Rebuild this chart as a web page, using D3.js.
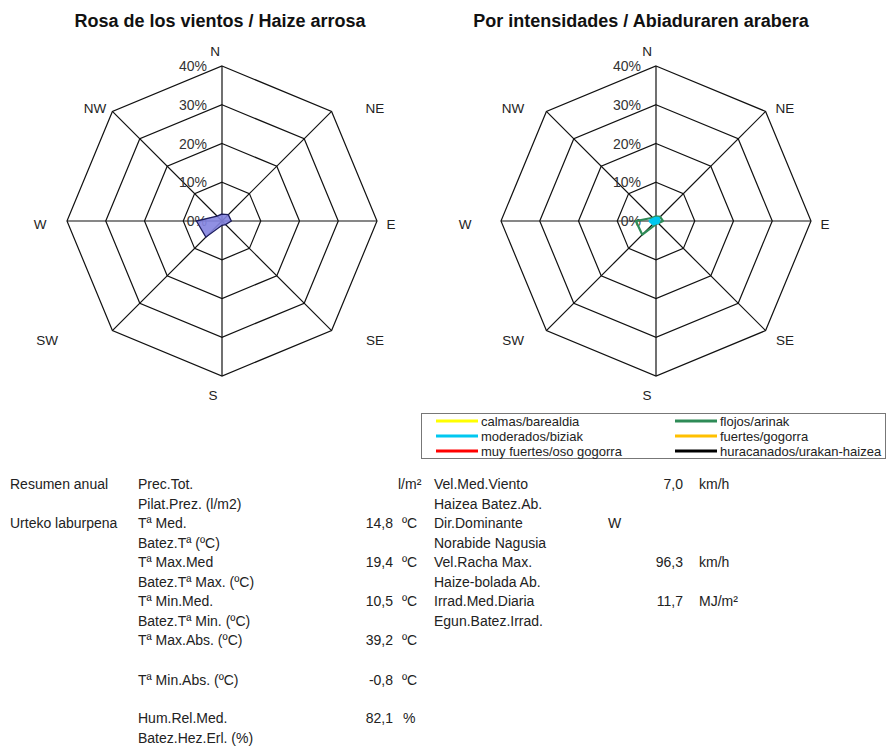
<!DOCTYPE html>
<html>
<head>
<meta charset="utf-8">
<script src="https://cdn.jsdelivr.net/npm/d3@7/dist/d3.min.js"></script>
<style>
  html, body { margin: 0; padding: 0; background: #fff; }
  svg text { font-family: "Liberation Sans", Arial, sans-serif; }
</style>
</head>
<body>
<svg id="chart" width="889" height="746"></svg>
<script>
// Compass directions and radial ticks
const directions = ["N", "NE", "E", "SE", "S", "SW", "W", "NW"];
const ringTicks = [10, 20, 30, 40];
const tickLabels = ["0%", "10%", "20%", "30%", "40%"];

// Overall frequency per direction (%)
const roseTotal = [1.8, 2.3, 2.4, 1.3, 1.1, 5.9, 6.6, 1.8];

// Frequency per direction split by wind intensity (%)
const intensityNames = ["calmas/barealdia", "flojos/arinak", "moderados/biziak", "fuertes/gogorra", "muy fuertes/oso gogorra", "huracanados/urakan-haizea"];
const intensityColors = ["#ffff00", "#2e8b57", "#00c8f0", "#ffc000", "#ff0000", "#000000"];
const calmas      = [0, 0, 0, 0, 0, 0, 0, 0];
const flojos      = [1.2, 1.5, 1.8, 0.8, 0.8, 5.0, 5.2, 1.2];
const moderados   = [0.6, 0.8, 0.6, 0.5, 0.3, 0.9, 1.4, 0.6];
const fuertes     = [0, 0, 0, 0, 0, 0, 0, 0];
const muyFuertes  = [0, 0, 0, 0, 0, 0, 0, 0];
const huracanados = [0, 0, 0, 0, 0, 0, 0, 0];
const intensitySeries = [calmas, flojos, moderados, fuertes, muyFuertes, huracanados];

// Annual summary table
const summaryLeftHeads = ["Resumen anual", "Urteko laburpena"];
const summaryLeftLabels = [
  ["Prec.Tot.", "Pilat.Prez. (l/m2)"],
  ["Tª Med.", "Batez.Tª (ºC)"],
  ["Tª Max.Med", "Batez.Tª Max. (ºC)"],
  ["Tª Min.Med.", "Batez.Tª Min. (ºC)"],
  ["Tª Max.Abs. (ºC)", ""],
  ["Tª Min.Abs. (ºC)", ""],
  ["Hum.Rel.Med.", "Batez.Hez.Erl. (%)"]
];
const summaryLeftValues = ["", "14,8", "19,4", "10,5", "39,2", "-0,8", "82,1"];
const summaryLeftUnits = ["l/m²", "ºC", "ºC", "ºC", "ºC", "ºC", "%"];
const summaryRightLabels = [
  ["Vel.Med.Viento", "Haizea Batez.Ab."],
  ["Dir.Dominante", "Norabide Nagusia"],
  ["Vel.Racha Max.", "Haize-bolada Ab."],
  ["Irrad.Med.Diaria", "Egun.Batez.Irrad."]
];
const summaryRightValues = ["7,0", "W", "96,3", "11,7"];
const summaryRightUnits = ["km/h", "", "km/h", "MJ/m²"];

const svg = d3.select("#chart");

const maxR = 155;
const r = d3.scaleLinear().domain([0, 40]).range([0, maxR]);
const angle = d3.scalePoint().domain(directions).range([0, 2 * Math.PI * 7 / 8]);

function polar(dir, v) {
  const a = angle(dir);
  return [r(v) * Math.sin(a), -r(v) * Math.cos(a)];
}

const lineClosed = d3.line().curve(d3.curveLinearClosed);

function drawGrid(g, labelOffsets) {
  ringTicks.forEach(t => {
    g.append("path")
      .attr("d", lineClosed(directions.map(d => polar(d, t))))
      .attr("fill", "none").attr("stroke", "#111").attr("stroke-width", 1.2);
  });
  directions.forEach(d => {
    const p = polar(d, 40);
    g.append("line").attr("x1", 0).attr("y1", 0).attr("x2", p[0]).attr("y2", p[1])
      .attr("stroke", "#111").attr("stroke-width", 1.2);
  });
  // direction names
  directions.forEach((d, i) => {
    g.append("text").attr("x", labelOffsets[i][0]).attr("y", labelOffsets[i][1] + 5)
      .attr("text-anchor", "middle").attr("font-size", 13.5).attr("fill", "#222").text(d);
  });
}

function drawTicks(g) {
  [0].concat(ringTicks).forEach((t, i) => {
    g.append("text").attr("x", -15).attr("y", -r(t) + 5)
      .attr("text-anchor", "end").attr("font-size", 14).attr("fill", "#333").text(tickLabels[i]);
  });
}

// ---- Left: overall wind rose
const leftC = [222, 221];
const leftLabels = [[-7, -170], [153, -113], [169, 3], [153, 119], [-9, 174], [-175, 119], [-182, 3], [-127, -113]];
svg.append("text").attr("x", 220).attr("y", 27).attr("text-anchor", "middle")
  .attr("font-size", 18).attr("font-weight", "bold").attr("fill", "#111")
  .text("Rosa de los vientos / Haize arrosa");
const gl = svg.append("g").attr("transform", `translate(${leftC[0]},${leftC[1]})`);
drawGrid(gl, leftLabels);
drawTicks(gl);
gl.append("path")
  .attr("d", lineClosed(directions.map((d, i) => polar(d, roseTotal[i]))))
  .attr("fill", "#8484e0").attr("fill-opacity", 0.9)
  .attr("stroke", "#1c1c5c").attr("stroke-width", 1.3);

// ---- Right: rose by intensity
const rightC = [656, 221];
const rightLabels = [[-9, -170], [129, -113], [169, 3], [129, 119], [-9, 174], [-143, 119], [-191, 3], [-143, -113]];
svg.append("text").attr("x", 641).attr("y", 27).attr("text-anchor", "middle")
  .attr("font-size", 18).attr("font-weight", "bold").attr("fill", "#111")
  .text("Por intensidades / Abiaduraren arabera");
const gr = svg.append("g").attr("transform", `translate(${rightC[0]},${rightC[1]})`);
drawGrid(gr, rightLabels);
drawTicks(gr);
intensitySeries.forEach((s, k) => {
  if (d3.max(s) === 0) return;
  gr.append("path")
    .attr("d", lineClosed(directions.map((d, i) => polar(d, s[i]))))
    .attr("fill", "none").attr("stroke", intensityColors[k])
    .attr("stroke-width", k === 2 ? 4 : 2.2).attr("stroke-linejoin", "round");
});

// ---- Legend
const lg = svg.append("g").attr("transform", "translate(421,413)");
lg.append("rect").attr("x", 0.5).attr("y", 0.5).attr("width", 464).attr("height", 45)
  .attr("fill", "#fff").attr("stroke", "#777").attr("stroke-width", 1);
// legend order: left column rows then right column rows
const legendOrder = [0, 2, 4, 1, 3, 5];
legendOrder.forEach((k, idx) => {
  const col = Math.floor(idx / 3), row = idx % 3;
  const x0 = col === 0 ? 15 : 254;
  const y0 = 8 + row * 15;
  lg.append("line").attr("x1", x0).attr("x2", x0 + 42).attr("y1", y0).attr("y2", y0)
    .attr("stroke", intensityColors[k]).attr("stroke-width", 3);
  lg.append("text").attr("x", x0 + 45).attr("y", y0 + 4.5).attr("font-size", 13).attr("fill", "#222")
    .text(intensityNames[k]);
});

// ---- Summary table
const tbl = svg.append("g").attr("font-size", 14).attr("fill", "#222");
const rowY = [484, 523, 562, 601, 640, 680, 718];
summaryLeftHeads.forEach((t, i) => {
  tbl.append("text").attr("x", 10).attr("y", rowY[i] + 5).text(t);
});
summaryLeftLabels.forEach((lab, i) => {
  tbl.append("text").attr("x", 138).attr("y", rowY[i] + 5).text(lab[0]);
  if (lab[1]) tbl.append("text").attr("x", 138).attr("y", rowY[i] + 24.5).text(lab[1]);
  tbl.append("text").attr("x", 393).attr("y", rowY[i] + 5).attr("text-anchor", "end").text(summaryLeftValues[i]);
  tbl.append("text").attr("x", i === 0 ? 398 : (i === 6 ? 403 : 402)).attr("y", rowY[i] + 5).text(summaryLeftUnits[i]);
});
summaryRightLabels.forEach((lab, i) => {
  tbl.append("text").attr("x", 434).attr("y", rowY[i] + 5).text(lab[0]);
  tbl.append("text").attr("x", 434).attr("y", rowY[i] + 24.5).text(lab[1]);
  const v = summaryRightValues[i];
  if (v === "W") {
    tbl.append("text").attr("x", 608).attr("y", rowY[i] + 5).text(v);
  } else {
    tbl.append("text").attr("x", 683).attr("y", rowY[i] + 5).attr("text-anchor", "end").text(v);
  }
  tbl.append("text").attr("x", 699).attr("y", rowY[i] + 5).text(summaryRightUnits[i]);
});
</script>
</body>
</html>
